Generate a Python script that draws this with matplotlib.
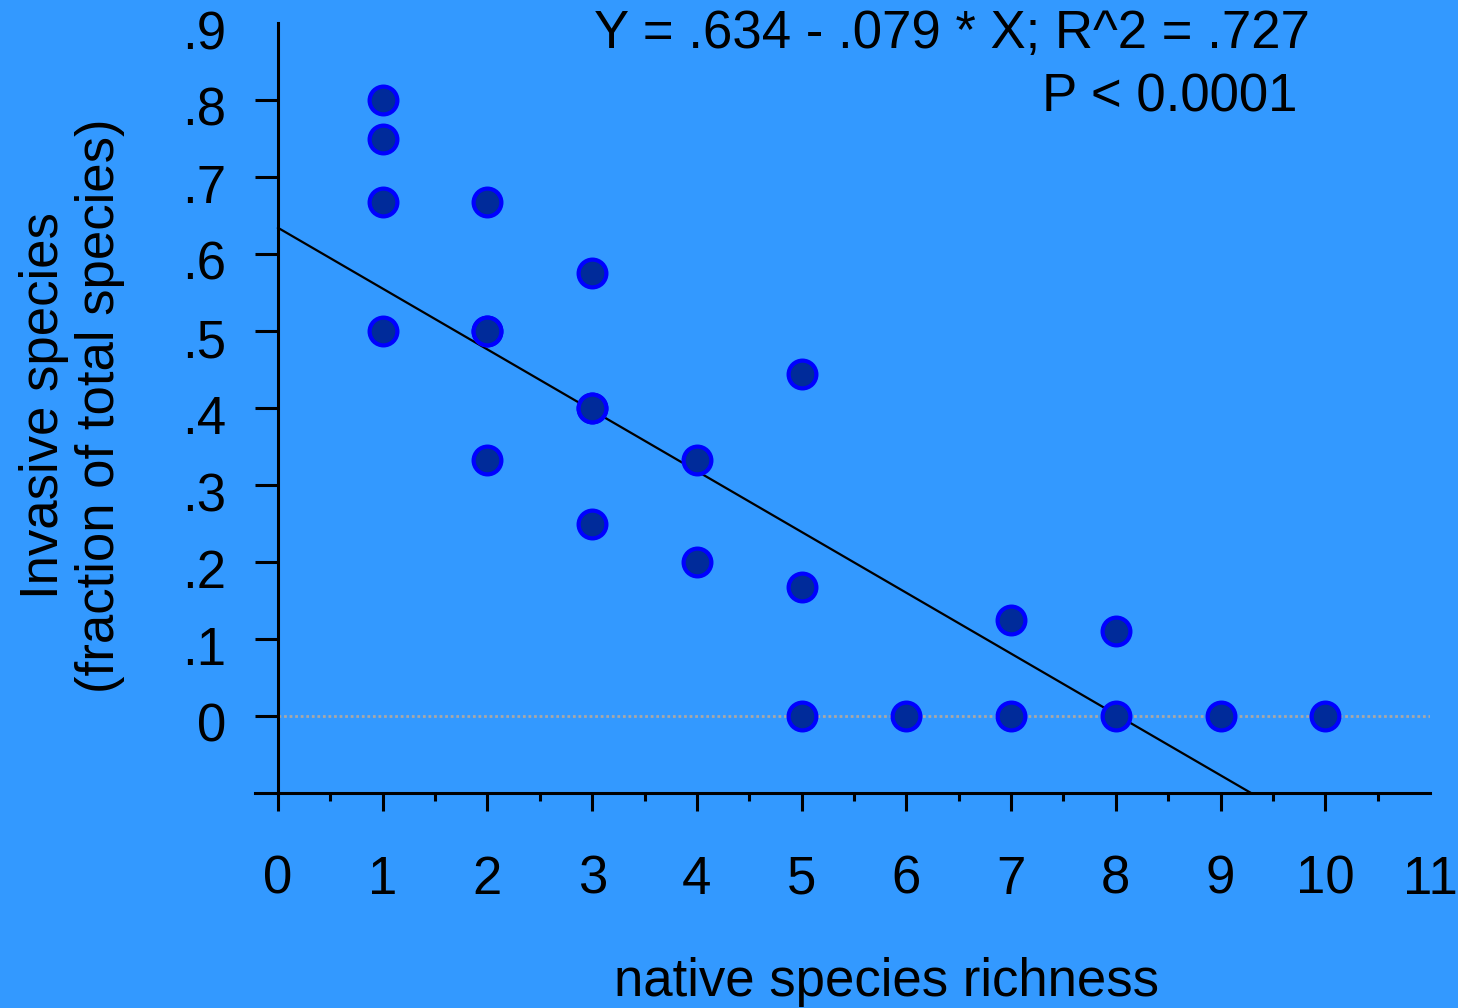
import matplotlib
matplotlib.use("Agg")
import matplotlib.pyplot as plt
import numpy as np

# ---- data ----
native_richness = [1, 1, 1, 1, 2, 2, 2, 2, 3, 3, 3, 3, 4, 4, 5, 5, 5, 6, 7, 7, 8, 8, 9, 10]
invasive_frac = [0.80, 0.75, 0.667, 0.50, 0.667, 0.50, 0.50, 0.333, 0.575, 0.40, 0.40, 0.25,
                 0.333, 0.20, 0.444, 0.167, 0.0, 0.0, 0.125, 0.0, 0.111, 0.0, 0.0, 0.0]
intercept = 0.634
slope = -0.079
x_ticks = list(range(0, 12))
x_tick_labels = [str(v) for v in x_ticks]
y_ticks = [0, 0.1, 0.2, 0.3, 0.4, 0.5, 0.6, 0.7, 0.8, 0.9]
y_tick_labels = ["0", ".1", ".2", ".3", ".4", ".5", ".6", ".7", ".8", ".9"]
equation_text = "Y = .634 - .079 * X; R^2 = .727"
p_text = "P < 0.0001"
x_label = "native species richness"
y_label = "Invasive species\n(fraction of total species)"

BG = "#3399FF"
plt.rcParams["font.family"] = ["Liberation Sans", "DejaVu Sans"]
FS = 38
PX = 0.72  # points per pixel at dpi 100

fig = plt.figure(figsize=(14.58, 10.08), dpi=100, facecolor=BG)
ax = fig.add_axes([255 / 1458, 1 - 793 / 1008, (1430 - 255) / 1458, (793 - 23) / 1008])
ax.set_facecolor(BG)
xmin, xmax, ymin, ymax = -0.22, 11.0, -0.1, 0.9
ax.set_xlim(xmin, xmax)
ax.set_ylim(ymin, ymax)

for s in ["top", "right"]:
    ax.spines[s].set_visible(False)
ax.spines["left"].set_position(("data", 0))
ax.spines["left"].set_linewidth(2.2)
ax.spines["bottom"].set_linewidth(2.2)

ax.set_xticks(x_ticks[:-1])
ax.set_xticks(np.arange(0.5, 11, 1.0), minor=True)
ax.set_yticks(y_ticks[:-1])
ax.set_xticklabels([])
ax.set_yticklabels([])
ax.tick_params(axis="x", which="major", direction="out", length=13, width=2.2)
ax.tick_params(axis="x", which="minor", direction="out", length=5.5, width=2.2)
ax.tick_params(axis="y", which="major", direction="out", length=16.5, width=2.2)

# tick labels (offset as in reference)
for v, lab in zip(x_ticks, x_tick_labels):
    ax.annotate(lab, xy=(v, ymin), xycoords="data", xytext=(0, -87 * PX),
                textcoords="offset points", ha="center", va="center",
                fontsize=FS, annotation_clip=False)
for v, lab in zip(y_ticks, y_tick_labels):
    ax.annotate(lab, xy=(0, v), xycoords="data", xytext=(-52 * PX, -12 * PX),
                textcoords="offset points", ha="right", va="center",
                fontsize=FS, annotation_clip=False)

# zero reference line
ax.plot([0, xmax], [0, 0], color="#a8a8a8", lw=2.0, ls=(0, (1, 1)), zorder=1)

# regression line from x=0 to where it meets the bottom of the axis
x_end = (ymin - intercept) / slope
ax.plot([0, x_end], [intercept, intercept + slope * x_end], color="black", lw=1.6, zorder=2)

ax.scatter(native_richness, invasive_frac, s=20 ** 2, c="#002B9A", edgecolors="#0000FF",
           linewidths=3.0, zorder=3, clip_on=False)

# texts
fig.text(1310 / 1458, 1 - 34 / 1008, equation_text, ha="right", va="center", fontsize=FS)
fig.text(1297 / 1458, 1 - 97 / 1008, p_text, ha="right", va="center", fontsize=FS)
fig.text(886 / 1458, 1 - 982 / 1008, x_label, ha="center", va="center", fontsize=FS)
fig.text(72 / 1458, 1 - 406 / 1008, y_label, ha="center", va="center", rotation=90,
         fontsize=FS, linespacing=1.17, multialignment="center")

fig.savefig("out.png", dpi=100, facecolor=BG)
